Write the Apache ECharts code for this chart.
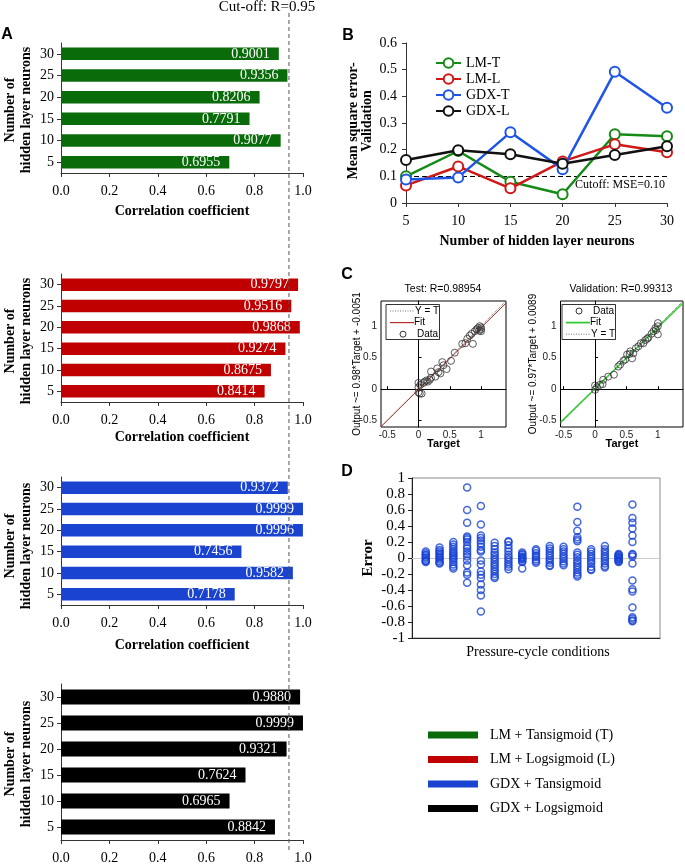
<!DOCTYPE html>
<html><head><meta charset="utf-8">
<script src="https://cdn.jsdelivr.net/npm/echarts@6/dist/echarts.min.js"></script>
<style>html,body{margin:0;padding:0;background:#fff}#c{width:685px;height:865px}</style>
</head><body><div id="c"></div>
<script>
// ---------- Panel A data ----------
const neurons = ['5', '10', '15', '20', '25', '30'];
const rLM_T  = [0.6955, 0.9077, 0.7791, 0.8206, 0.9356, 0.9001];
const rLM_L  = [0.8414, 0.8675, 0.9274, 0.9868, 0.9516, 0.9797];
const rGDX_T = [0.7178, 0.9582, 0.7456, 0.9996, 0.9999, 0.9372];
const rGDX_L = [0.8842, 0.6965, 0.7624, 0.9321, 0.9999, 0.9880];
const comboNames = ['LM + Tansigmoid (T)', 'LM + Logsigmoid (L)', 'GDX + Tansigmoid', 'GDX + Logsigmoid'];
const cutoffR = 0.942;   // drawn position of the "R=0.95" cut-off line

// ---------- Panel B data ----------
const mseNeurons = [5, 10, 15, 20, 25, 30];
const mseNames = ['LM-T', 'LM-L', 'GDX-T', 'GDX-L'];
const mseLM_T  = [0.100, 0.195, 0.080, 0.033, 0.258, 0.250];
const mseLM_L  = [0.066, 0.137, 0.055, 0.156, 0.220, 0.190];
const mseGDX_T = [0.088, 0.096, 0.265, 0.127, 0.492, 0.357];
const mseGDX_L = [0.161, 0.198, 0.183, 0.147, 0.180, 0.213];
const mseCutoff = 0.105;

// ---------- Panel C data ----------
const testTarget = [0.00,0.00,0.00,0.02,0.05,0.03,0.08,0.10,0.13,0.15,0.18,0.20,0.20,0.27,0.30,0.32,0.35,0.38,0.40,0.45,0.52,0.58,0.70,0.75,0.78,0.82,0.85,0.87,0.90,0.93,0.95,0.97,1.00,1.00,1.00,0.98];
const testOutput = [0.10,0.03,-0.05,-0.07,-0.07,0.07,0.10,0.12,0.14,0.12,0.15,0.18,0.28,0.20,0.33,0.27,0.25,0.43,0.38,0.32,0.45,0.58,0.72,0.73,0.80,0.85,0.88,0.72,0.92,0.95,0.97,0.93,0.95,0.98,0.92,1.00];
const valTarget = [0.00,0.00,0.03,0.08,0.12,0.13,0.21,0.30,0.37,0.40,0.45,0.48,0.51,0.55,0.56,0.59,0.61,0.65,0.69,0.73,0.77,0.80,0.83,0.85,0.90,0.93,0.96,0.97,1.00,1.00,1.00];
const valOutput = [0.06,-0.01,0.03,0.07,0.08,0.15,0.20,0.23,0.36,0.39,0.45,0.47,0.55,0.56,0.60,0.49,0.57,0.65,0.68,0.73,0.73,0.78,0.80,0.82,0.88,0.92,0.97,0.94,1.00,1.05,0.87];
const testFit = [0.98, -0.0051];   // slope, intercept
const valFit  = [0.97, 0.0089];
const cTicks = [-0.5, 0, 0.5, 1];

// ---------- Panel D data ----------
const dErrors = [
  [0.08,0.06,0.04,0.03,0.01,-0.01,-0.03,-0.04,-0.05],
  [0.13,0.10,0.08,0.06,0.04,0.02,0,-0.02,-0.04,-0.06,-0.07],
  [0.20,0.17,0.14,0.11,0.08,0.06,0.04,0.02,0,-0.02,-0.05,-0.08,-0.11,-0.13],
  [0.88,0.60,0.44,0.27,0.25,0.23,0.20,0.15,0.12,0.08,0.05,0.02,-0.03,-0.09,-0.18,-0.21,-0.31],
  [0.65,0.42,0.28,0.25,0.22,0.18,0.14,0.10,0.08,-0.03,-0.08,-0.17,-0.21,-0.25,-0.33,-0.40,-0.47,-0.67],
  [0.19,0.15,0.11,0.07,0.04,0.01,-0.02,-0.05,-0.08,-0.11,-0.14,-0.17,-0.20,-0.23,-0.25],
  [0.21,0.20,0.16,0.12,0.08,0.04,0.01,-0.02,-0.05,-0.08,-0.11,-0.14],
  [0.07,0.05,0.04,0.02,0.01,0,-0.01,-0.02,-0.04,-0.05,-0.13],
  [0.11,0.09,0.06,0.03,0.01,-0.02,-0.04,-0.06],
  [0.15,0.12,0.09,0.06,0.03,0,-0.03,-0.06,-0.09,-0.10],
  [0.14,0.11,0.08,0.05,0.02,-0.01,-0.04,-0.07,-0.09],
  [0.64,0.45,0.34,0.26,0.23,0.21,0.07,0.04,0.01,-0.03,-0.06,-0.09,-0.12,-0.15,-0.18,-0.21,-0.23],
  [0.11,0.08,0.05,0.02,-0.01,-0.04,-0.07,-0.11,-0.14,-0.15],
  [0.15,0.11,0.08,0.05,0.02,-0.01,-0.04,-0.07,-0.10,-0.12],
  [0.05,0.04,0.03,0.02,0.01,0,-0.01,-0.02,-0.03,-0.04,-0.05],
  [0.67,0.50,0.44,0.37,0.28,0.20,0.05,0.04,0.02,-0.07,-0.28,-0.39,-0.42,-0.62,-0.74,-0.76,-0.78,-0.79]
];

// ---------- styling ----------
const SERIF = '"Liberation Serif", "Times New Roman", serif';
const SANS = '"Liberation Sans", Arial, sans-serif';
const barColors = ['#0a6b0a', '#c00000', '#1a44d0', '#000000'];
const lineColors = ['#168a16', '#d01818', '#1f55e6', '#111111'];

const chart = echarts.init(document.getElementById('c'), null, { renderer: 'canvas' });

const grids = [
  { left: 61, top: 43, width: 242, height: 130 },
  { left: 61, top: 274, width: 242, height: 128 },
  { left: 61, top: 477, width: 242, height: 128 },
  { left: 61, top: 684, width: 242, height: 159 },
  { left: 406, top: 43, width: 261, height: 160 },
  { left: 381, top: 301, width: 125, height: 126, show: true, borderColor: '#000', borderWidth: 1, backgroundColor: '#fff' },
  { left: 560.5, top: 301, width: 122.5, height: 126, show: true, borderColor: '#000', borderWidth: 1, backgroundColor: '#fff' },
  { left: 412, top: 478, width: 248, height: 160, show: true, borderColor: '#8a8a8a', borderWidth: 1 }
];

const xAxes = [], yAxes = [], series = [];
const axLine = { show: true, lineStyle: { color: '#333', width: 1 } };

// Panel A
const barData = [rLM_T, rLM_L, rGDX_T, rGDX_L];
barData.forEach((d, i) => {
  xAxes.push({
    gridIndex: i, type: 'value', min: 0, max: 1, interval: 0.2,
    axisLine: axLine, axisTick: { show: true, length: 4, lineStyle: { color: '#333' } },
    splitLine: { show: false },
    axisLabel: { formatter: v => v.toFixed(1), fontFamily: SERIF, fontSize: 14, color: '#000', margin: 11 }
  });
  yAxes.push({
    gridIndex: i, type: 'category', data: neurons,
    axisLine: axLine, axisTick: { show: true, alignWithLabel: true, length: 4, lineStyle: { color: '#333' } },
    axisLabel: { fontFamily: SERIF, fontSize: 14, color: '#000', margin: 7 }
  });
  series.push({
    type: 'bar', name: comboNames[i], xAxisIndex: i, yAxisIndex: i, data: d,
    barWidth: i === 3 ? 15 : 12.5,
    itemStyle: { color: barColors[i] },
    label: { show: true, position: 'insideRight', distance: 9, color: '#fff', fontFamily: SERIF, fontSize: 14,
             formatter: p => p.value.toFixed(4) }
  });
});

// Panel B
xAxes.push({
  gridIndex: 4, type: 'value', min: 5, max: 30, interval: 5,
  axisLine: axLine, axisTick: { show: true, length: 4, lineStyle: { color: '#333' } },
  splitLine: { show: false },
  axisLabel: { fontFamily: SERIF, fontSize: 14, color: '#000', margin: 11 }
});
yAxes.push({
  gridIndex: 4, type: 'value', min: 0, max: 0.6, interval: 0.1,
  axisLine: axLine, axisTick: { show: true, length: 4, lineStyle: { color: '#333' } },
  splitLine: { show: false },
  axisLabel: { fontFamily: SERIF, fontSize: 14, color: '#000', margin: 9 }
});
[mseLM_T, mseLM_L, mseGDX_T, mseGDX_L].forEach((d, i) => {
  const s = {
    type: 'line', name: mseNames[i], xAxisIndex: 4, yAxisIndex: 4,
    data: mseNeurons.map((n, k) => [n, d[k]]),
    symbol: 'emptyCircle', symbolSize: 10,
    lineStyle: { color: lineColors[i], width: 2.5 },
    itemStyle: { color: lineColors[i], borderWidth: 2.5 },
    z: 3 + i
  };
  if (i === 0) {
    s.markLine = {
      silent: true, symbol: 'none', z: 1,
      lineStyle: { color: '#000', type: [5, 3], width: 1 },
      label: { show: true, position: 'insideEndBottom', formatter: 'Cutoff: MSE=0.10',
               fontFamily: SERIF, fontSize: 12, color: '#000', distance: [2, 3] },
      data: [{ yAxis: mseCutoff }]
    };
  }
  series.push(s);
});

// Panel C
const cLims = [{ x: [-0.6, 1.4], y: [-0.6, 1.4] }, { x: [-0.55, 1.4], y: [-0.6, 1.4] }];
[5, 6].forEach((g, j) => {
  const lim = cLims[j];
  xAxes.push({
    gridIndex: g, type: 'value', min: lim.x[0], max: lim.x[1],
    axisLine: { show: true, lineStyle: { color: '#000', width: 1 } },
    axisTick: { show: true, inside: true, length: 3, customValues: cTicks, lineStyle: { color: '#000' } },
    splitLine: { show: false },
    axisLabel: { customValues: cTicks, fontFamily: SANS, fontSize: 10, color: '#222', margin: 3 }
  });
  yAxes.push({
    gridIndex: g, type: 'value', min: lim.y[0], max: lim.y[1],
    axisLine: { show: true, lineStyle: { color: '#000', width: 1 } },
    axisTick: { show: true, inside: true, length: 3, customValues: cTicks, lineStyle: { color: '#000' } },
    splitLine: { show: false },
    axisLabel: { customValues: cTicks, fontFamily: SANS, fontSize: 10, color: '#222', margin: 4 }
  });
});
function lineOver(lim, slope, b) { return [[lim[0], slope * lim[0] + b], [lim[1], slope * lim[1] + b]]; }
// test subplot
series.push({ type: 'line', name: 'Y = T (test)', xAxisIndex: 5, yAxisIndex: 5, data: lineOver(cLims[0].x, 1, 0),
  symbol: 'none', lineStyle: { color: '#666', type: 'dotted', width: 1 }, z: 2 });
series.push({ type: 'line', name: 'Fit (test)', xAxisIndex: 5, yAxisIndex: 5, data: lineOver(cLims[0].x, testFit[0], testFit[1]),
  symbol: 'none', lineStyle: { color: '#b3302a', width: 1 }, z: 3 });
series.push({ type: 'scatter', name: 'Data (test)', xAxisIndex: 5, yAxisIndex: 5,
  data: testTarget.map((t, k) => [t, testOutput[k]]), symbolSize: 7,
  itemStyle: { color: 'rgba(0,0,0,0)', borderColor: '#333', borderWidth: 1 }, z: 4 });
// validation subplot
series.push({ type: 'line', name: 'Y = T (val)', xAxisIndex: 6, yAxisIndex: 6, data: lineOver(cLims[1].x, 1, 0),
  symbol: 'none', lineStyle: { color: '#666', type: 'dotted', width: 1 }, z: 2 });
series.push({ type: 'line', name: 'Fit (val)', xAxisIndex: 6, yAxisIndex: 6, data: lineOver(cLims[1].x, valFit[0], valFit[1]),
  symbol: 'none', lineStyle: { color: '#33cc33', width: 1.5 }, z: 3 });
series.push({ type: 'scatter', name: 'Data (val)', xAxisIndex: 6, yAxisIndex: 6,
  data: valTarget.map((t, k) => [t, valOutput[k]]), symbolSize: 7,
  itemStyle: { color: 'rgba(0,0,0,0)', borderColor: '#333', borderWidth: 1 }, z: 4 });

// Panel D
xAxes.push({
  gridIndex: 7, type: 'value', min: 0, max: 18,
  axisLine: { show: true, onZero: false, lineStyle: { color: '#222', width: 1 } },
  axisTick: { show: false }, axisLabel: { show: false }, splitLine: { show: false }
});
yAxes.push({
  gridIndex: 7, type: 'value', min: -1, max: 1, interval: 0.2,
  axisLine: { show: true, lineStyle: { color: '#222', width: 1 } },
  axisTick: { show: true, length: 4, lineStyle: { color: '#222' } },
  splitLine: { show: false },
  axisLabel: { fontFamily: SERIF, fontSize: 15, color: '#000', margin: 7 }
});
const dPoints = [];
dErrors.forEach((g, i) => g.forEach(v => dPoints.push([i + 1, v])));
series.push({
  type: 'scatter', name: 'Error', xAxisIndex: 7, yAxisIndex: 7, data: dPoints, symbolSize: 7,
  itemStyle: { color: 'rgba(0,0,0,0)', borderColor: '#1742d4', borderWidth: 1.5 },
  markLine: { silent: true, symbol: 'none', z: 1, label: { show: false },
    lineStyle: { color: '#cccccc', type: 'solid', width: 1 }, data: [{ yAxis: 0 }] }
});

// ---------- text / decorations ----------
function txt(id, text, x, y, o) {
  o = o || {};
  return { id, type: 'text', x, y, rotation: o.rot || 0, z: 100,
    style: { text, fill: o.color || '#000', fontFamily: o.family || SERIF, fontSize: o.size || 14,
             fontWeight: o.weight || 'normal', align: o.align || 'center', verticalAlign: 'middle',
             textAlign: o.align || 'center', textVerticalAlign: 'middle', lineHeight: o.lh || undefined } };
}
const R90 = Math.PI / 2;
const g = [];
g.push(txt('cuttxt', 'Cut-off: R=0.95', 267, 7, { size: 15 }));
g.push(txt('la', 'A', 7, 35, { family: SANS, weight: 'bold', size: 16 }));
g.push(txt('lb', 'B', 348, 36, { family: SANS, weight: 'bold', size: 16 }));
g.push(txt('lc', 'C', 347, 275, { family: SANS, weight: 'bold', size: 16 }));
g.push(txt('ld', 'D', 347, 472, { family: SANS, weight: 'bold', size: 16 }));
[211, 437, 645].forEach((y, i) => g.push(txt('cc' + i, 'Correlation coefficient', 182, y, { weight: 'bold' })));
[110, 341, 546, 764].forEach((y, i) => g.push(txt('yn' + i, 'Number of\nhidden layer neurons', 18, y, { weight: 'bold', rot: R90, lh: 16 })));
g.push(txt('byn', 'Mean square error-\nValidation', 360, 121, { weight: 'bold', rot: R90, lh: 14 }));
g.push(txt('bxn', 'Number of hidden layer neurons', 537, 241, { weight: 'bold' }));
g.push(txt('ct1', 'Test: R=0.98954', 443, 289, { family: SANS, size: 10.5 }));
g.push(txt('ct2', 'Validation: R=0.99313', 621, 289, { family: SANS, size: 10.5 }));
g.push(txt('cy1', 'Output ~= 0.98*Target + -0.0051', 357, 364, { family: SANS, size: 10, rot: R90 }));
g.push(txt('cy2', 'Output ~= 0.97*Target + 0.0089', 533, 364, { family: SANS, size: 10, rot: R90 }));
g.push(txt('cx1', 'Target', 443.5, 444, { family: SANS, size: 11, weight: 'bold' }));
g.push(txt('cx2', 'Target', 622, 444, { family: SANS, size: 11, weight: 'bold' }));
g.push(txt('dyn', 'Error', 368, 558, { weight: 'bold', rot: R90, size: 15 }));
g.push(txt('dxn', 'Pressure-cycle conditions', 538, 652, { size: 14 }));

// C legends (decoration)
function cLegend(prefix, x0, rows, fitColor) {
  const els = [{ id: prefix + 'box', type: 'rect', shape: { x: x0, y: 304.5, width: 53.5, height: 35 }, z: 90,
    style: { fill: '#fff', stroke: '#000', lineWidth: 0.8 } }];
  rows.forEach((r, k) => {
    const y = 311 + k * 11.6;
    if (r === 'Data') {
      els.push({ id: prefix + 'c' + k, type: 'circle', shape: { cx: x0 + 17, cy: y, r: 3 }, z: 95,
        style: { fill: 'none', stroke: '#333', lineWidth: 1 } });
      els.push(txt(prefix + 't' + k, 'Data', x0 + 31, y, { family: SANS, size: 10, align: 'left' }));
    } else if (r === 'Fit') {
      els.push({ id: prefix + 'l' + k, type: 'line', shape: { x1: x0 + 4, y1: y, x2: x0 + 28, y2: y }, z: 95,
        style: { stroke: fitColor, lineWidth: fitColor === '#33cc33' ? 1.8 : 1.2 } });
      els.push(txt(prefix + 't' + k, 'Fit', x0 + 28, y, { family: SANS, size: 10, align: 'left' }));
    } else {
      els.push({ id: prefix + 'l' + k, type: 'line', shape: { x1: x0 + 4, y1: y, x2: x0 + 28, y2: y }, z: 95,
        style: { stroke: '#777', lineWidth: 1, lineDash: [1, 1.5] } });
      els.push(txt(prefix + 't' + k, 'Y = T', x0 + 29, y, { family: SANS, size: 10, align: 'left' }));
    }
  });
  return els;
}
g.push(...cLegend('lg1', 386, ['Y = T', 'Fit', 'Data'], '#b3302a'));
g.push(...cLegend('lg2', 562, ['Data', 'Fit', 'Y = T'], '#33cc33'));

const option = {
  animation: false,
  backgroundColor: '#fff',
  grid: grids,
  xAxis: xAxes,
  yAxis: yAxes,
  series: series,
  legend: [
    { data: mseNames, orient: 'vertical', left: 430, top: 51, itemWidth: 25, itemHeight: 12, itemGap: 2,
      selectedMode: false, textStyle: { fontFamily: SERIF, fontSize: 14, color: '#000', lineHeight: 14 } },
    { data: comboNames, orient: 'vertical', left: 423, top: 722, itemWidth: 50, itemHeight: 7, itemGap: 8.5,
      icon: 'rect', selectedMode: false,
      textStyle: { fontFamily: SERIF, fontSize: 14, color: '#000', lineHeight: 16, padding: [0, 0, 0, 7] } }
  ],
  graphic: { elements: g }
};
chart.setOption(option);

// Cut-off vertical dashed line positioned through the x scale of panel A
const cutX = chart.convertToPixel({ xAxisIndex: 0 }, cutoffR);
chart.setOption({ graphic: { elements: [{ id: 'cutline', type: 'line', z: 120,
  shape: { x1: cutX, y1: 13, x2: cutX, y2: 850 },
  style: { stroke: '#555', lineWidth: 1, lineDash: [4, 3] } }] } });
</script>
</body></html>
